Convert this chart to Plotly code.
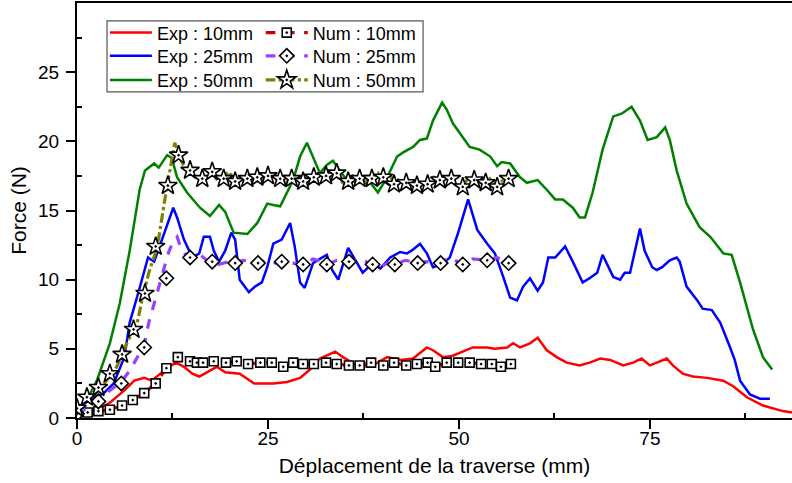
import plotly.graph_objects as go

# ---- experimental curves (mm, N) ----
exp10_x = [0, 2.6, 4.3, 6.2, 7.5, 8.8, 9.8, 10.9, 12.0, 13.0, 14.0, 15.1, 16.0, 17.0, 18.3, 19.4, 21.3, 23.2,
           25.7, 27.5, 29.2, 30.5, 31.8, 33.8, 34.8, 37.0, 38.7, 40.6, 42.3, 44.0, 45.8, 46.6, 47.9, 49.2,
           51.8, 53.7, 54.7, 56.3, 57.1, 58.0, 59.3, 60.3, 61.5, 62.8, 64.1, 65.8, 67.1, 68.5, 69.8, 71.5,
           72.8, 73.9, 75.0, 75.9, 77.2, 78.0, 79.3, 80.6, 82.5, 84.6, 85.9, 87.7, 89.8, 92.4, 93.6]
exp10_y = [0.4, 0.6, 1.1, 2.0, 2.7, 2.9, 2.7, 3.2, 3.7, 4.0, 3.7, 3.2, 3.0, 3.3, 3.7, 3.3, 3.2, 2.5,
           2.5, 2.6, 2.9, 3.5, 4.3, 4.8, 4.4, 3.7, 3.8, 4.4, 4.2, 4.3, 5.1, 4.9, 4.4, 4.5,
           5.1, 5.1, 5.0, 5.1, 5.4, 5.1, 5.4, 5.8, 4.9, 4.4, 4.0, 3.8, 4.0, 4.3, 4.2, 3.8,
           4.0, 4.3, 3.8, 4.0, 4.3, 3.8, 3.2, 3.0, 2.9, 2.7, 2.3, 1.5, 0.9, 0.5, 0.4]

exp25_x = [0, 1.7, 3.5, 4.8, 6.2, 6.9, 8.1, 8.8, 9.3, 10.1, 10.9, 12.0, 12.6, 13.1, 14.0, 15.1, 16.0, 16.6,
           17.4, 17.9, 18.6, 19.4, 20.2, 20.7, 21.3, 22.5, 23.3, 24.2, 24.9, 25.7, 26.8, 27.9, 28.5, 29.2,
           29.8, 30.9, 32.7, 33.4, 34.2, 35.5, 36.6, 37.4, 38.7, 39.7, 41.0, 42.3, 43.2, 43.8, 44.9, 45.8,
           46.6, 47.8, 48.8, 49.9, 51.2, 52.4, 53.7, 54.7, 55.8, 56.4, 56.7, 57.6, 58.4, 59.3, 60.3, 61.0,
           61.7, 62.6, 63.9, 64.9, 66.2, 67.1, 68.1, 68.8, 70.2, 71.1, 71.7, 72.4, 73.7, 74.3, 75.3, 75.9,
           76.6, 77.6, 78.5, 78.9, 79.8, 81.2, 81.9, 83.1, 84.2, 85.5, 86.1, 86.8, 88.1, 89.4, 90.7]
exp25_y = [0.7, 1.3, 1.8, 2.5, 4.4, 6.9, 9.2, 10.7, 11.6, 11.3, 12.6, 14.3, 15.2, 14.5, 12.9, 11.6, 11.9, 13.1,
           13.1, 12.1, 11.3, 12.1, 13.4, 12.9, 10.0, 9.1, 9.5, 9.8, 10.9, 12.6, 12.9, 14.1, 12.4, 9.8,
           9.4, 11.2, 11.8, 10.7, 10.0, 12.3, 11.2, 10.5, 11.2, 10.8, 11.6, 12.0, 11.9, 12.1, 12.6, 11.9,
           10.9, 11.1, 11.6, 13.4, 15.8, 13.6, 12.6, 11.9, 10.2, 9.2, 8.7, 8.5, 9.5, 10.1, 9.2, 9.8,
           11.6, 11.6, 12.4, 11.3, 9.8, 10.1, 10.5, 11.8, 10.2, 10.0, 10.5, 10.5, 13.7, 12.1, 10.9, 10.7,
           10.9, 11.4, 11.6, 11.3, 9.5, 8.5, 7.9, 7.8, 6.9, 5.1, 4.2, 2.7, 1.7, 1.4, 1.4]

exp50_x = [0, 1.3, 2.6, 4.3, 5.6, 6.9, 8.2, 8.9, 10.1, 10.7, 11.8, 12.4, 13.1, 14.4, 16.1, 17.4, 18.6, 19.4,
           20.5, 22.3, 23.6, 24.9, 25.7, 26.6, 28.3, 29.2, 30.1, 30.9, 31.8, 32.7, 33.5, 34.4, 35.3, 37.0,
           38.4, 39.4, 40.6, 41.9, 42.7, 44.0, 44.9, 45.8, 46.6, 47.8, 48.4, 49.2, 50.1, 51.4, 52.7, 54.1,
           55.0, 55.6, 56.7, 58.0, 58.9, 60.3, 61.5, 62.6, 63.6, 64.9, 65.8, 66.5, 67.5, 68.8, 70.2, 71.3,
           72.6, 73.7, 74.7, 75.9, 77.0, 77.6, 78.5, 79.8, 81.5, 82.9, 84.6, 85.7, 86.8, 88.5, 89.8, 91.0]
exp50_y = [0.6, 1.3, 2.7, 5.4, 8.3, 12.1, 16.5, 17.9, 18.4, 18.1, 19.0, 18.8, 17.4, 16.3, 15.2, 14.6, 15.4, 14.9,
           13.4, 13.3, 14.1, 15.5, 15.4, 15.3, 17.2, 18.9, 19.9, 18.9, 17.7, 18.3, 18.6, 17.9, 17.2, 17.0,
           17.0, 16.3, 17.4, 18.9, 19.2, 19.6, 20.1, 20.2, 21.5, 22.8, 22.3, 21.3, 20.6, 19.6, 19.4, 18.9,
           18.2, 18.5, 18.4, 17.4, 17.0, 17.2, 16.5, 15.8, 15.8, 15.2, 14.5, 14.5, 16.3, 19.4, 21.8, 22.0,
           22.5, 21.5, 20.1, 20.3, 21.0, 20.1, 17.9, 15.5, 13.8, 13.1, 11.9, 11.8, 9.8, 6.4, 4.4, 3.5]

# ---- numerical curves ----
num10_x = [0, 1.4, 2.8, 4.3, 5.9, 7.3, 8.8, 10.3, 11.7, 13.2, 14.8, 15.7, 16.5, 17.9, 19.5, 20.9, 22.4, 24.0,
           25.5, 27.0, 28.3, 29.6, 31.0, 32.6, 34.0, 35.6, 37.0, 38.5, 40.1, 41.5, 43.1, 44.5, 45.9, 46.9,
           48.4, 49.9, 51.4, 52.9, 54.3, 55.5, 56.8]
num10_y = [0.2, 0.4, 0.5, 0.6, 0.9, 1.3, 1.8, 2.5, 3.6, 4.4, 4.1, 4.0, 4.0, 4.1, 4.0, 4.1, 3.9, 4.0,
           4.0, 3.7, 4.0, 3.9, 3.9, 4.0, 3.9, 3.8, 3.8, 4.0, 3.8, 4.0, 3.8, 3.9, 4.0, 3.7,
           4.0, 4.0, 4.0, 3.9, 3.9, 3.7, 3.9]

num25_x = [0, 1.5, 2.8, 4.3, 5.8, 7.0, 8.0, 8.8, 9.4, 10.5, 11.4, 12.0, 12.7, 13.1, 13.6, 14.2, 14.8, 16.1,
           17.0, 17.7, 18.5, 19.8, 20.7, 21.7, 23.0, 23.7, 24.9, 26.0, 26.8, 28.3, 29.6, 30.9, 32.0, 32.7,
           34.0, 35.6, 37.0, 38.7, 39.7, 40.6, 41.6, 43.0, 44.6, 45.8, 47.6, 48.8, 50.5, 51.8, 53.7, 55.0, 56.5]
num25_y = [0.3, 0.8, 1.2, 2.0, 2.6, 3.5, 4.5, 5.3, 6.9, 9.0, 10.7, 12.0, 12.9, 13.1, 12.3, 11.8, 11.6, 11.8,
           11.4, 11.3, 11.1, 11.3, 11.2, 11.4, 11.3, 11.2, 11.4, 11.2, 11.3, 11.2, 11.1, 11.5, 11.3, 11.1,
           11.4, 11.3, 11.5, 11.1, 10.9, 11.2, 11.1, 11.4, 11.2, 11.3, 11.2, 11.6, 11.1, 11.5, 11.4, 11.6, 11.2]
num25_mx = [0, 2.8, 5.8, 8.8, 11.7, 14.8, 17.7, 20.7, 23.7, 26.8, 29.6, 32.7, 35.6, 38.7, 41.6, 44.6,
            47.6, 50.5, 53.7, 56.5]
num25_my = [0.3, 1.2, 2.5, 5.1, 10.1, 11.6, 11.3, 11.2, 11.2, 11.3, 11.1, 11.1, 11.3, 11.1, 11.1, 11.2,
            11.2, 11.1, 11.4, 11.2]

num50_x = [0, 1.3, 2.8, 4.3, 5.2, 6.5, 7.9, 8.5, 9.4, 10.3, 10.7, 11.5, 12.2, 12.8, 13.3, 14.0, 14.8, 15.6,
           16.4, 17.0, 17.7, 18.4, 19.2, 19.9, 20.7, 21.5, 22.3, 23.0, 23.6, 24.3, 25.0, 25.8, 26.6, 27.4,
           28.1, 28.9, 29.6, 30.3, 31.0, 31.8, 32.6, 33.3, 34.0, 34.8, 35.5, 36.3, 37.0, 37.8, 38.6, 39.4,
           40.1, 40.8, 41.5, 42.3, 43.1, 43.8, 44.5, 45.2, 45.9, 46.7, 47.5, 48.3, 49.0, 49.8, 50.5, 51.3,
           52.0, 52.8, 53.5, 54.3, 55.0, 55.8, 56.5]
num50_y = [0.5, 1.2, 2.0, 3.0, 3.7, 5.4, 6.9, 8.5, 10.5, 12.0, 13.0, 15.8, 17.9, 19.9, 19.0, 18.2, 17.7, 17.4,
           17.6, 17.9, 17.6, 17.2, 17.5, 17.8, 17.0, 17.2, 16.9, 17.4, 17.6, 17.3, 17.7, 17.2, 17.4, 17.0,
           17.6, 17.2, 17.0, 17.5, 17.3, 17.7, 17.4, 17.8, 17.5, 17.0, 17.2, 17.6, 17.3, 17.1, 17.4, 17.7,
           17.2, 17.7, 17.0, 17.3, 16.9, 17.2, 16.9, 17.0, 16.8, 17.4, 17.2, 17.6, 17.1, 16.8, 16.9, 17.3,
           17.4, 17.0, 17.1, 17.4, 16.8, 17.2, 17.2]
num50_mx = [0, 1.3, 2.8, 4.3, 5.9, 7.4, 8.9, 10.3, 11.9, 13.3, 14.8, 16.4, 17.7, 19.2, 20.7, 22.3, 23.6,
            25.0, 26.6, 28.1, 29.6, 31.0, 32.6, 34.0, 35.5, 37.0, 38.6, 40.1, 41.5, 43.1, 44.5, 45.9,
            47.5, 49.0, 50.5, 52.0, 53.5, 55.0, 56.5]
num50_my = [0.7, 1.5, 2.2, 3.2, 4.6, 6.4, 9.0, 12.4, 16.8, 19.0, 17.9, 17.3, 17.8, 17.3, 17.1, 17.3, 17.4,
            17.5, 17.3, 17.3, 17.1, 17.4, 17.5, 17.7, 17.1, 17.3, 17.3, 17.4, 16.9, 17.0, 16.8, 16.9,
            17.2, 17.3, 16.7, 17.2, 17.0, 16.7, 17.3]

FONT = "Arial, Liberation Sans, sans-serif"
fig = go.Figure()

# one small legend per entry so the 2x3 grid can be placed like the original
row_y = [0.928, 0.872, 0.814]
col_x = [0.039, 0.257]

exp_series = [("Exp : 10mm", exp10_x, exp10_y, "#ff0000"),
              ("Exp : 25mm", exp25_x, exp25_y, "#0000ff"),
              ("Exp : 50mm", exp50_x, exp50_y, "#008000")]
for i, (name, xs, ys, col) in enumerate(exp_series):
    fig.add_trace(go.Scatter(x=xs, y=ys, mode="lines", name=name,
                             legend="legend" if i == 0 else "legend" + str(i + 1),
                             line=dict(color=col, width=2.5)))

num_series = [
    ("Num : 10mm", num10_x, num10_y, num10_x, num10_y, "#cc0000", "dash", "square-dot", 9),
    ("Num : 25mm", num25_x, num25_y, num25_mx, num25_my, "#9a40ff", "dash", "diamond-dot", 11),
    ("Num : 50mm", num50_x, num50_y, num50_mx, num50_my, "#808000", "dashdot", "star-dot", 14),
]
for i, (name, lx, ly, mx, my, col, dash, sym, size) in enumerate(num_series):
    fig.add_trace(go.Scatter(x=lx, y=ly, mode="lines", showlegend=False,
                             line=dict(color=col, width=3.2, dash=dash)))
    fig.add_trace(go.Scatter(x=mx, y=my, mode="markers", showlegend=False,
                             marker=dict(symbol=sym, size=size, color="white",
                                         line=dict(color="black", width=1.6))))
    # legend entry: line + marker
    fig.add_trace(go.Scatter(x=[None], y=[None], mode="lines+markers", name=name,
                             legend="legend" + str(i + 4),
                             line=dict(color=col, width=3.2, dash=dash),
                             marker=dict(symbol=sym, size=size, color="white",
                                         line=dict(color="black", width=1.6))))

legends = {}
for i in range(6):
    key = "legend" if i == 0 else "legend" + str(i + 1)
    legends[key] = dict(x=col_x[i // 3], y=row_y[i % 3], xanchor="left", yanchor="middle",
                        bgcolor="rgba(0,0,0,0)", font=dict(family=FONT, size=18, color="black"),
                        itemwidth=42, tracegroupgap=0)

tick_font = dict(family=FONT, size=19, color="black")
title_font = dict(family=FONT, size=21, color="black")
fig.update_layout(
    width=792, height=483,
    margin=dict(l=77, r=0, t=3, b=65),
    paper_bgcolor="white", plot_bgcolor="white",
    font=dict(family=FONT, size=18, color="black"),
    xaxis=dict(range=[0, 93.6], tickvals=[0, 25, 50, 75], ticks="outside", ticklen=9, tickwidth=2,
               tickcolor="black", showline=True, linewidth=2, linecolor="black", mirror=True,
               showgrid=False, zeroline=False, tickfont=tick_font, ticklabelstandoff=-7,
               minor=dict(tickvals=[12.5, 37.5, 62.5, 87.5], ticks="inside", ticklen=5, tickwidth=1.5,
                          tickcolor="black", showgrid=False),
               title=dict(text="Déplacement de la traverse (mm)", font=title_font, standoff=11)),
    xaxis2=dict(range=[0, 93.6], overlaying="x", tickvals=[0, 25, 50, 75], ticks="inside", ticklen=6,
                tickwidth=2, tickcolor="black", showticklabels=False, showline=False, showgrid=False,
                zeroline=False),
    yaxis=dict(range=[0, 30], tickvals=[0, 5, 10, 15, 20, 25], ticks="outside", ticklen=9, tickwidth=2,
               tickcolor="black", showline=True, linewidth=2, linecolor="black",
               showgrid=False, zeroline=False, tickfont=tick_font, ticklabelstandoff=3,
               minor=dict(tickvals=[2.5, 7.5, 12.5, 17.5, 22.5, 27.5], ticks="inside", ticklen=5,
                          tickwidth=1.5, tickcolor="black", showgrid=False),
               title=dict(text="Force (N)", font=title_font, standoff=6)),
    yaxis2=dict(range=[0, 30], overlaying="y", side="right", tickvals=[5, 10, 15, 20, 25], ticks="inside",
                ticklen=6, tickwidth=2, tickcolor="black", showticklabels=False, showline=False,
                showgrid=False, zeroline=False),
    shapes=[dict(type="rect", xref="paper", yref="paper", x0=0.042, x1=0.484, y0=0.786, y1=0.957,
                 line=dict(color="#555555", width=1.2), fillcolor="white", layer="above")],
    **legends,
)

# page body has an 8px default margin; drop it so the 792x483 figure fills the window
fig.write_html("out.html", config={"displayModeBar": False},
               post_script="document.body.style.margin='0px';")
